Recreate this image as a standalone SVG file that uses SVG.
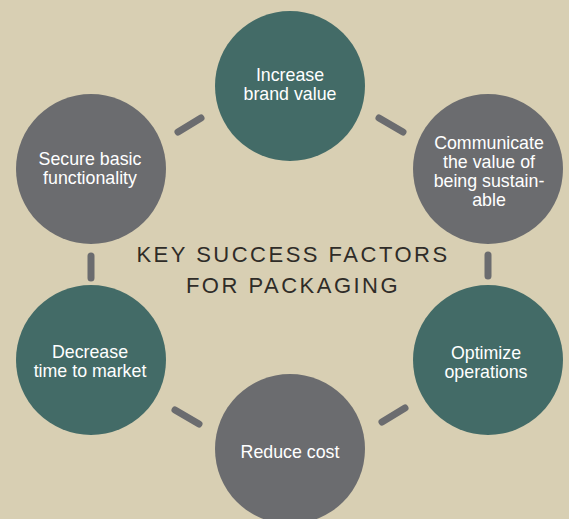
<svg xmlns="http://www.w3.org/2000/svg" width="569" height="519" viewBox="0 0 569 519">
<style>
.teal{fill:#436b67}
.grey{fill:#6b6c6f}
.lbl{font-family:"Liberation Sans",Arial,sans-serif;font-size:17.8px;fill:#ffffff;text-anchor:middle}
.title{font-family:"Liberation Sans",Arial,sans-serif;font-size:22px;fill:#2f2c28;text-anchor:middle;letter-spacing:2.5px}
.conn line{stroke:#6b6c6f;stroke-width:7;stroke-linecap:round}
</style>
<rect width="569" height="519" fill="#d8cfb3"/>
<g class="conn" id="connectors">
<line x1="178" y1="132" x2="201" y2="118"/>
<line x1="379" y1="118" x2="403" y2="132"/>
<line x1="488" y1="255" x2="488" y2="276"/>
<line x1="382" y1="422" x2="405" y2="408"/>
<line x1="175" y1="410" x2="199" y2="424"/>
<line x1="91" y1="256" x2="91" y2="278"/>
</g>
<g id="title">
<text class="title" x="293" y="262">KEY SUCCESS FACTORS</text>
<text class="title" x="293" y="293">FOR PACKAGING</text>
</g>
<g id="n-brand">
<circle class="teal" cx="290" cy="86" r="75"/>
<text class="lbl" x="290" y="81">Increase</text>
<text class="lbl" x="290" y="100">brand value</text>
</g>
<g id="n-sustain">
<circle class="grey" cx="488" cy="169" r="75"/>
<text class="lbl" x="489" y="149">Communicate</text>
<text class="lbl" x="489" y="168">the value of</text>
<text class="lbl" x="489" y="187">being sustain-</text>
<text class="lbl" x="489" y="206">able</text>
</g>
<g id="n-optimize">
<circle class="teal" cx="488" cy="360" r="75"/>
<text class="lbl" x="486" y="359">Optimize</text>
<text class="lbl" x="486" y="378">operations</text>
</g>
<g id="n-cost">
<circle class="grey" cx="290" cy="449" r="75"/>
<text class="lbl" x="290" y="458">Reduce cost</text>
</g>
<g id="n-time">
<circle class="teal" cx="91" cy="360" r="75"/>
<text class="lbl" x="90" y="358">Decrease</text>
<text class="lbl" x="90" y="377">time to market</text>
</g>
<g id="n-secure">
<circle class="grey" cx="91" cy="169" r="75"/>
<text class="lbl" x="90" y="165">Secure basic</text>
<text class="lbl" x="90" y="184">functionality</text>
</g>
</svg>
